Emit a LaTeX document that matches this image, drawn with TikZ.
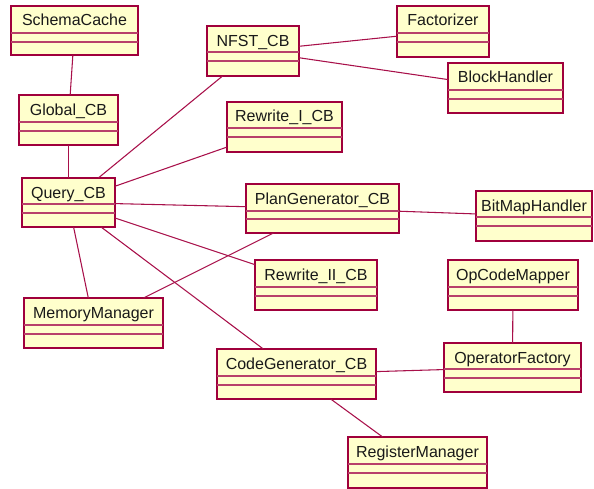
\documentclass[tikz,border=0pt]{standalone}
\usepackage{fontspec}
\setmainfont{Liberation Sans}
\usetikzlibrary{fit}
\definecolor{umlborder}{HTML}{A0003C}
\definecolor{umlsep}{HTML}{B8406A}
\definecolor{umlfill}{HTML}{FFFFCC}
\definecolor{umlline}{HTML}{A8104A}
\tikzset{
  clsbox/.style={draw=umlborder, fill=umlfill, line width=1.1pt, inner sep=0pt, outer sep=0pt},
  clssep/.style={draw=umlsep, line width=0.8pt},
  clsname/.style={font=\fontsize{12}{14}\selectfont, text=black!90, inner sep=0pt, anchor=base},
  assoc/.style={draw=umlline, line width=0.8pt},
}
% name, x1, y1, x2, y2, sep1, sep2, label
\newcommand\umlclass[8]{%
  \coordinate (#1-nw) at (#2,#3);
  \coordinate (#1-se) at (#4,#5);
  \node[clsbox, fit=(#1-nw)(#1-se)] (#1) {};
  \draw[clssep] (#2,#6) -- (#4,#6) (#2,#7) -- (#4,#7);
  \node[clsname] (#1-label) at ({(#2+#4)/2},{#3+20}) {#8};
}
\begin{document}
\begin{tikzpicture}[x=0.75pt,y=-0.75pt]
\useasboundingbox (0,0) rectangle (594,489);
\umlclass{sc}{11}{6}{138}{55}{33}{42}{SchemaCache}
\umlclass{nfst}{207}{26}{299}{76}{52}{61}{NFST\_CB}
\umlclass{fac}{397}{6}{489}{57}{33}{42}{Factorizer}
\umlclass{bh}{448}{63}{563}{113}{90}{99}{BlockHandler}
\umlclass{gl}{19}{95}{118}{145}{122}{131}{Global\_CB}
\umlclass{rw1}{227}{102}{342}{152}{128}{137}{Rewrite\_I\_CB}
\umlclass{q}{22}{178}{115}{227}{204}{213}{Query\_CB}
\umlclass{pg}{246}{184}{399}{233}{211}{219}{PlanGenerator\_CB}
\umlclass{bm}{476}{191}{592}{241}{217}{226}{BitMapHandler}
\umlclass{rw2}{255}{260}{377}{310}{287}{296}{Rewrite\_II\_CB}
\umlclass{ocm}{448}{260}{578}{310}{287}{296}{OpCodeMapper}
\umlclass{mm}{24}{298}{163}{348}{325}{334}{MemoryManager}
\umlclass{cg}{217}{349}{376}{399}{376}{385}{CodeGenerator\_CB}
\umlclass{of}{444}{343}{581}{392}{369}{378}{OperatorFactory}
\umlclass{rm}{348}{437}{487}{488}{464}{473}{RegisterManager}
% associations
\draw[assoc] (sc) -- (gl);
\draw[assoc] (gl) -- (q);
\draw[assoc] (q) -- (nfst);
\draw[assoc] (q) -- (rw1);
\draw[assoc] (q) -- (pg);
\draw[assoc] (q) -- (rw2);
\draw[assoc] (q) -- (cg);
\draw[assoc] (q) -- (mm);
\draw[assoc] (pg) -- (mm);
\draw[assoc] (pg) -- (bm);
\draw[assoc] (nfst) -- (fac);
\draw[assoc] (nfst) -- (bh);
\draw[assoc] (ocm) -- (of);
\draw[assoc] (cg) -- (of);
\draw[assoc] (cg) -- (rm);
\end{tikzpicture}
\end{document}
